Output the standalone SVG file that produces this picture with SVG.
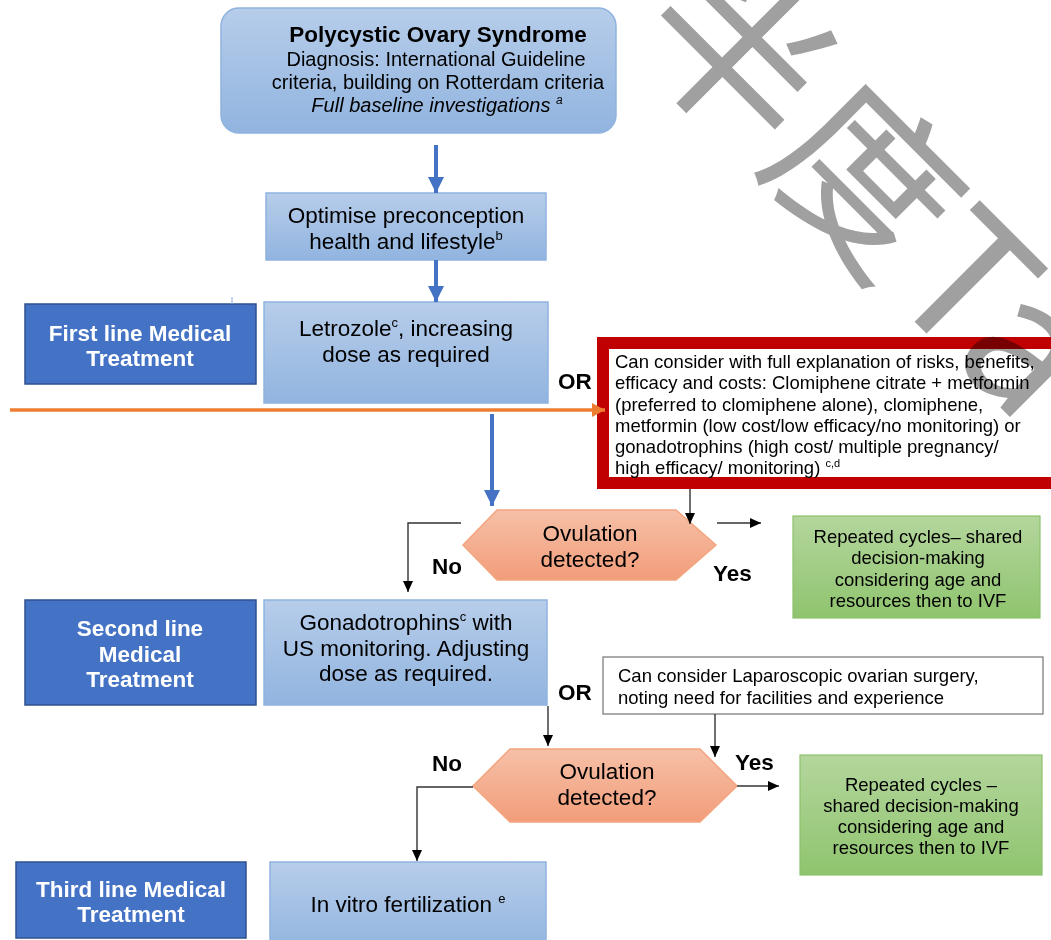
<svg xmlns="http://www.w3.org/2000/svg" width="1051" height="940" viewBox="0 0 1051 940">
<style>
text{font-family:"Liberation Sans",Arial,sans-serif;fill:#000}
.t22{font-size:22.5px}
.t20{font-size:20px}
.t18{font-size:18.5px}
.b{font-weight:bold}
.w{fill:#fff}
.mid{text-anchor:middle}
.lblue{fill:url(#gBlue);stroke:#8fb3e0;stroke-width:1.5}
.dblue{fill:#4472c4;stroke:#2f528f;stroke-width:1.5}
.green{fill:url(#gGreen);stroke:#8dc26b;stroke-width:1.2}
.hex{fill:url(#gHex);stroke:#f4a57f;stroke-width:1.5}
.ba{stroke:#4472c4;stroke-width:4;fill:none;marker-end:url(#mBlue)}
.ka{stroke:#333;stroke-width:1.4;fill:none;marker-end:url(#mBlack)}
.kl{stroke:#666;stroke-width:1.4;fill:none}
.wm{font-family:"Noto Sans CJK SC","Noto Sans CJK JP",sans-serif;font-size:180px;fill:#a0a0a0;mix-blend-mode:multiply}
</style>
<defs>
<linearGradient id="gBlue" x1="0" y1="0" x2="0" y2="1"><stop offset="0" stop-color="#b7cdea"/><stop offset="1" stop-color="#91b4df"/></linearGradient>
<linearGradient id="gGreen" x1="0" y1="0" x2="0" y2="1"><stop offset="0" stop-color="#b4d69d"/><stop offset="1" stop-color="#8fc46e"/></linearGradient>
<linearGradient id="gHex" x1="0" y1="0" x2="0" y2="1"><stop offset="0" stop-color="#f6c0a7"/><stop offset="1" stop-color="#f29d7a"/></linearGradient>
<marker id="mBlue" markerUnits="userSpaceOnUse" markerWidth="18" markerHeight="18" refX="16" refY="8" orient="auto"><path d="M0,0 L16,8 L0,16 z" fill="#4472c4"/></marker>
<marker id="mBlack" markerUnits="userSpaceOnUse" markerWidth="12" markerHeight="12" refX="11" refY="5" orient="auto"><path d="M0,0 L11,5 L0,10 z" fill="#000"/></marker>
<marker id="mOrange" markerUnits="userSpaceOnUse" markerWidth="14" markerHeight="14" refX="13" refY="7" orient="auto"><path d="M0,0 L13,7 L0,14 z" fill="#ed7d31"/></marker>
</defs>
<rect width="1051" height="940" fill="#fff"/>

<g id="pcos">
<rect x="221" y="8" width="395" height="125" rx="18" class="lblue"/>
<text x="438" y="42" class="t22 b mid">Polycystic Ovary Syndrome</text>
<text x="436" y="66" class="t20 mid">Diagnosis: International Guideline</text>
<text x="438" y="89" class="t20 mid">criteria, building on Rotterdam criteria</text>
<text x="437" y="112" class="t20 mid" font-style="italic">Full baseline investigations <tspan font-size="12" dy="-8">a</tspan></text>
</g>

<g id="optimise">
<rect x="266" y="193" width="280" height="67" class="lblue"/>
<text x="406" y="223" class="t22 mid">Optimise preconception</text>
<text x="406" y="249" class="t22 mid">health and lifestyle<tspan font-size="13" dy="-9">b</tspan></text>
</g>

<g id="first-line">
<rect x="25" y="304" width="231" height="80" class="dblue"/>
<text x="140" y="341" class="t22 b w mid">First line Medical</text>
<text x="140" y="366" class="t22 b w mid">Treatment</text>
</g>

<g id="letrozole">
<rect x="264" y="302" width="284" height="101" class="lblue"/>
<text x="406" y="336" class="t22 mid">Letrozole<tspan font-size="13" dy="-9">c</tspan><tspan dy="9">, increasing</tspan></text>
<text x="406" y="362" class="t22 mid">dose as required</text>
</g>

<g id="or1"><text x="558" y="389" class="t22 b">OR</text></g>

<g id="alt-first">
<rect x="603" y="343" width="460" height="140" fill="#fff" stroke="#c00000" stroke-width="12"/>
<text x="615" y="368" class="t18">Can consider with full explanation of risks, benefits,</text>
<text x="615" y="389" class="t18">efficacy and costs: Clomiphene citrate + metformin</text>
<text x="615" y="411" class="t18">(preferred to clomiphene alone), clomiphene,</text>
<text x="615" y="432" class="t18">metformin (low cost/low efficacy/no monitoring) or</text>
<text x="615" y="453" class="t18">gonadotrophins (high cost/ multiple pregnancy/</text>
<text x="615" y="474" class="t18">high efficacy/ monitoring) <tspan font-size="11" dy="-7">c,d</tspan></text>
</g>

<g id="ovulation1">
<polygon points="463,545 497,510 676,510 716,545 676,580 497,580" class="hex"/>
<text x="590" y="541" class="t22 mid">Ovulation</text>
<text x="590" y="567" class="t22 mid">detected?</text>
</g>
<g id="no1"><text x="432" y="574" class="t22 b">No</text></g>
<g id="yes1"><text x="713" y="581" class="t22 b">Yes</text></g>

<g id="repeat1">
<rect x="793" y="516" width="247" height="102" class="green"/>
<text x="918" y="543" class="t18 mid">Repeated cycles– shared</text>
<text x="918" y="564" class="t18 mid">decision-making</text>
<text x="918" y="586" class="t18 mid">considering age and</text>
<text x="918" y="607" class="t18 mid">resources then to IVF</text>
</g>

<g id="second-line">
<rect x="25" y="600" width="231" height="105" class="dblue"/>
<text x="140" y="636" class="t22 b w mid">Second line</text>
<text x="140" y="662" class="t22 b w mid">Medical</text>
<text x="140" y="687" class="t22 b w mid">Treatment</text>
</g>

<g id="gonadotrophins">
<rect x="264" y="600" width="283" height="105" class="lblue"/>
<text x="406" y="630" class="t22 mid">Gonadotrophins<tspan font-size="13" dy="-9">c</tspan><tspan dy="9"> with</tspan></text>
<text x="406" y="656" class="t22 mid">US monitoring. Adjusting</text>
<text x="406" y="681" class="t22 mid">dose as required.</text>
</g>

<g id="or2"><text x="558" y="700" class="t22 b">OR</text></g>

<g id="laparoscopic">
<rect x="603" y="657" width="440" height="57" fill="#fff" stroke="#7f7f7f" stroke-width="1.3"/>
<text x="618" y="682" class="t18">Can consider Laparoscopic ovarian surgery,</text>
<text x="618" y="704" class="t18">noting need for facilities and experience</text>
</g>

<g id="ovulation2">
<polygon points="473,786 510,749 700,749 737,786 700,822 510,822" class="hex"/>
<text x="607" y="779" class="t22 mid">Ovulation</text>
<text x="607" y="805" class="t22 mid">detected?</text>
</g>
<g id="no2"><text x="432" y="771" class="t22 b">No</text></g>
<g id="yes2"><text x="735" y="770" class="t22 b">Yes</text></g>

<g id="repeat2">
<rect x="800" y="755" width="242" height="120" class="green"/>
<text x="921" y="791" class="t18 mid">Repeated cycles –</text>
<text x="921" y="812" class="t18 mid">shared decision-making</text>
<text x="921" y="833" class="t18 mid">considering age and</text>
<text x="921" y="854" class="t18 mid">resources then to IVF</text>
</g>

<g id="third-line">
<rect x="16" y="862" width="230" height="76" class="dblue"/>
<text x="131" y="897" class="t22 b w mid">Third line Medical</text>
<text x="131" y="922" class="t22 b w mid">Treatment</text>
</g>

<g id="ivf">
<rect x="270" y="862" width="276" height="90" class="lblue"/>
<text x="408" y="912" class="t22 mid">In vitro fertilization <tspan font-size="13" dy="-9">e</tspan></text>
</g>

<g id="connectors">
<line x1="232" y1="297" x2="232" y2="304" stroke="#8faadc" stroke-width="1"/>
<line x1="436" y1="145" x2="436" y2="193" class="ba"/>
<line x1="436" y1="260" x2="436" y2="302" class="ba"/>
<line x1="10" y1="410" x2="605" y2="410" stroke="#ed7d31" stroke-width="3.5" marker-end="url(#mOrange)"/>
<line x1="492" y1="414" x2="492" y2="506" class="ba"/>
<line x1="690" y1="489" x2="690" y2="524" class="ka"/>
<polyline points="461,523 408,523 408,592" class="ka"/>
<line x1="717" y1="523" x2="761" y2="523" class="ka"/>
<line x1="548" y1="706" x2="548" y2="746" class="ka"/>
<line x1="715" y1="714" x2="715" y2="757" class="ka"/>
<polyline points="473,787 417,787 417,861" class="ka"/>
<line x1="737" y1="786" x2="779" y2="786" class="ka"/>
</g>

<g id="watermark">
<text class="wm" transform="translate(628,35) rotate(45)">半度Ta</text>
</g>
</svg>
